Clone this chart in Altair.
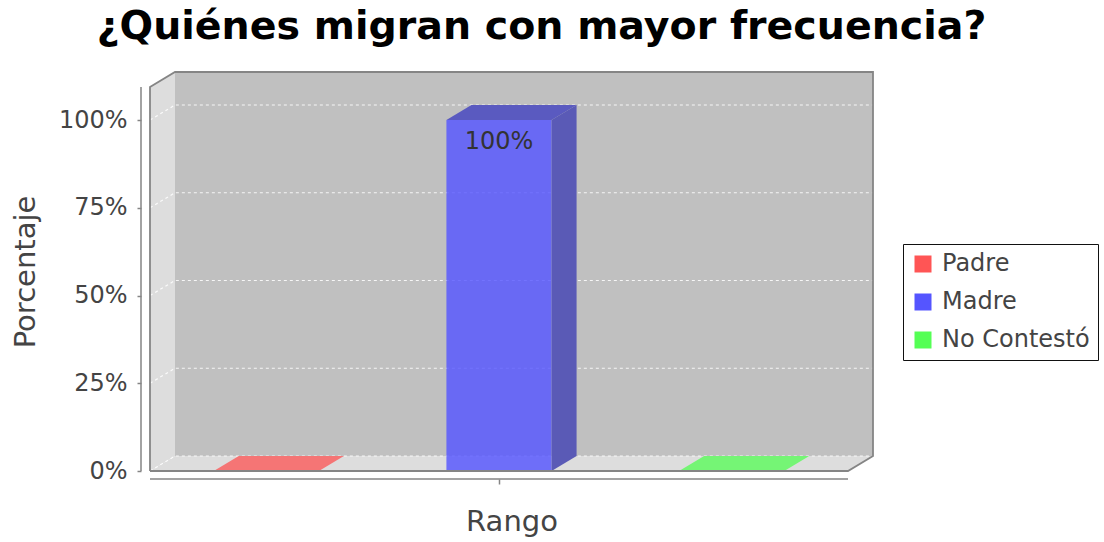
import altair as alt
import pandas as pd

# ---- data ----
CATEGORIES = ["Padre", "Madre", "No Contestó"]
VALUES = [0, 100, 0]
Y_TICKS = [0, 25, 50, 75, 100]
TITLE = "¿Quiénes migran con mayor frecuencia?"
X_TITLE = "Rango"
Y_TITLE = "Porcentaje"

# ---- style ----
SERIES_COLORS = ["#FF5555", "#5555FF", "#55FF55"]
TOP_FACE_COLORS = ["#F57575", "#5A5AC0", "#75F575"]
SIDE_FACE_COLORS = ["#C04848", "#5A5AB6", "#48C048"]
WALL = "#C0C0C0"
SIDE_WALL = "#DDDDDD"
OUTLINE = "#858585"
TEXT = "#444444"
FONT = "DejaVu Sans"

W, H = 723, 399                  # plot area incl. 3D depth
DEPTH_PX_X, DEPTH_PX_Y = 25, 15  # 3D offset in pixels
PX_PER_PCT = 3.51
BAR_FRAC = 0.452

n = len(CATEGORIES)
band_px = (W - DEPTH_PX_X) / n
XMAX = W / band_px
DX = DEPTH_PX_X / band_px
YMAX = H / PX_PER_PCT
DY = DEPTH_PX_Y / PX_PER_PCT
FRONT_TOP = YMAX - DY

xs = alt.Scale(domain=[0, XMAX], nice=False, zero=False)
ys = alt.Scale(domain=[0, YMAX], nice=False, zero=False)

X_AXIS = alt.Axis(
    values=[n / 2], labels=False, domain=False, grid=False, ticks=True, tickSize=5,
    tickColor=OUTLINE, tickWidth=1.5, offset=8, title=X_TITLE, titleFont=FONT,
    titleFontSize=29, titleFontWeight="normal", titleColor=TEXT, titlePadding=23)
Y_AXIS = alt.Axis(
    values=Y_TICKS, labelExpr="datum.value + '%'", domain=False, grid=False,
    tickSize=4, tickColor=OUTLINE, tickWidth=1.5, offset=9, labelPadding=10,
    labelFont=FONT, labelFontSize=24, labelColor=TEXT,
    title=Y_TITLE, titleFont=FONT, titleFontSize=29, titleFontWeight="normal",
    titleColor=TEXT, titlePadding=18)


def X(field):
    return alt.X(field, type="quantitative", scale=xs, axis=X_AXIS)


def Y(field):
    return alt.Y(field, type="quantitative", scale=ys, axis=Y_AXIS)


# ---- frames ----
back = pd.DataFrame({"x": [DX], "x2": [XMAX], "y": [DY], "y2": [YMAX]})
left_wall = pd.DataFrame({"x": [0, DX], "y": [0, DY], "y2": [FRONT_TOP, YMAX]})
floor = pd.DataFrame({"y": [0, DY], "x": [0, DX], "x2": [n, n + DX]})

grid_rows = []
for v in Y_TICKS:
    for i, (gx, gy) in enumerate([(0, v), (DX, v + DY), (XMAX, v + DY)]):
        grid_rows.append({"v": v, "i": i, "x": gx, "y": gy})
grid = pd.DataFrame(grid_rows)

outline_pts = [(0, 0), (0, FRONT_TOP), (DX, YMAX), (XMAX, YMAX), (XMAX, DY), (n, 0), (0, 0)]
outline = pd.DataFrame({"i": range(len(outline_pts)),
                        "x": [p[0] for p in outline_pts],
                        "y": [p[1] for p in outline_pts]})

front_rows, top_rows, side_rows = [], [], []
for k, (cat, val) in enumerate(zip(CATEGORIES, VALUES)):
    c = k + 0.5
    l, r = c - BAR_FRAC / 2, c + BAR_FRAC / 2
    front_rows.append({"cat": cat, "x": l, "x2": r, "y": 0, "y2": val, "c": c, "val": val,
                       "label": f"{val}%"})
    top_rows += [{"cat": cat, "y": val, "x": l, "x2": r, "col": TOP_FACE_COLORS[k]},
                 {"cat": cat, "y": val + DY, "x": l + DX, "x2": r + DX, "col": TOP_FACE_COLORS[k]}]
    if val > 0:
        side_rows += [{"cat": cat, "x": r, "y": val, "y2": 0, "col": SIDE_FACE_COLORS[k]},
                      {"cat": cat, "x": r + DX, "y": val + DY, "y2": DY, "col": SIDE_FACE_COLORS[k]}]
front = pd.DataFrame(front_rows)
tops = pd.DataFrame(top_rows)
sides = pd.DataFrame(side_rows)
labels = front[front["val"] > 0]

# ---- layers ----
back_layer = alt.Chart(back).mark_rect(fill=WALL).encode(
    x=X("x"), x2="x2:Q", y=Y("y"), y2="y2:Q")

left_layer = alt.Chart(left_wall).mark_area(fill=SIDE_WALL, orient="vertical").encode(
    x=X("x"), y=Y("y"), y2="y2:Q")

floor_layer = alt.Chart(floor).mark_area(fill=SIDE_WALL, orient="horizontal").encode(
    y=Y("y"), x=X("x"), x2="x2:Q")

grid_layer = alt.Chart(grid).mark_line(stroke="white", strokeWidth=1.2, strokeDash=[3, 3],
                                       opacity=0.85).encode(
    x=X("x"), y=Y("y"), detail="v:N", order="i:Q")

front_layer = alt.Chart(front).mark_rect(opacity=0.82).encode(
    x=X("x"), x2="x2:Q", y=Y("y"), y2="y2:Q",
    color=alt.Color("cat:N", scale=alt.Scale(domain=CATEGORIES, range=SERIES_COLORS),
                    legend=alt.Legend(title=None, orient="none", legendX=753, legendY=172,
                                      symbolType="square", symbolSize=289, symbolOpacity=1,
                                      symbolStrokeWidth=0, labelFont=FONT, labelFontSize=24,
                                      labelColor=TEXT, labelOffset=7, rowPadding=14,
                                      padding=8, strokeColor="#111111",
                                      fillColor="white")))

top_layer = alt.Chart(tops).mark_area(orient="horizontal").encode(
    y=Y("y"), x=X("x"), x2="x2:Q",
    fill=alt.Fill("col:N", scale=None), detail="cat:N")

side_layer = alt.Chart(sides).mark_area(orient="vertical").encode(
    x=X("x"), y=Y("y"), y2="y2:Q",
    fill=alt.Fill("col:N", scale=None), detail="cat:N")

label_layer = alt.Chart(labels).mark_text(
    font=FONT, fontSize=24, color="#333333", baseline="alphabetic", align="center", dy=29
).encode(x=X("c"), y=Y("val"), text="label:N")

outline_layer = alt.Chart(outline).mark_line(stroke=OUTLINE, strokeWidth=1.8).encode(
    x=X("x"), y=Y("y"), order="i:Q")

y_axis_line = alt.Chart(pd.DataFrame({"y": [0], "y2": [FRONT_TOP]})).mark_rule(
    stroke=OUTLINE, strokeWidth=1.5).encode(
    x=alt.value(-9), y=Y("y"), y2="y2:Q")

x_axis_line = alt.Chart(pd.DataFrame({"x": [0], "x2": [n]})).mark_rule(
    stroke=OUTLINE, strokeWidth=1.5).encode(
    y=alt.value(H + 8), x=X("x"), x2="x2:Q")

chart = alt.layer(
    back_layer, left_layer, floor_layer, grid_layer, front_layer, top_layer, side_layer,
    label_layer, outline_layer, y_axis_line, x_axis_line,
).properties(
    width=W, height=H,
    title=alt.TitleParams(TITLE, font=FONT, fontSize=39.5, fontWeight="bold", color="black",
                          anchor="middle", dx=30, dy=36, offset=26, baseline="alphabetic"),
    autosize=alt.AutoSizeParams(type="none"),
    padding={"left": 150, "top": 72, "right": 231, "bottom": 71},
    background="white",
).configure_view(stroke=None)

chart.save("out.html", embed_options={"renderer": "svg", "actions": False})
